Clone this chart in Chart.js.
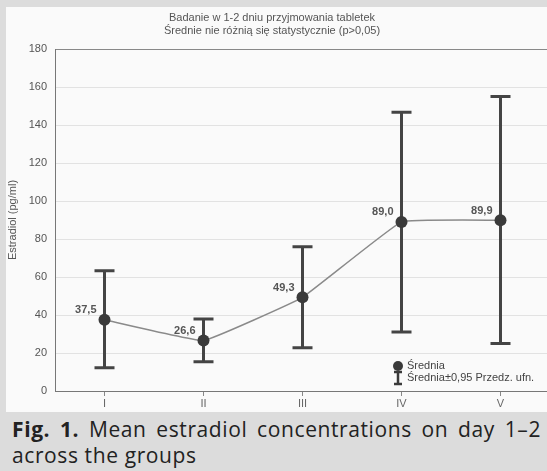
<!DOCTYPE html>
<html><head><meta charset="utf-8">
<script src="https://cdn.jsdelivr.net/npm/chart.js@4"></script>
<style>
html,body{margin:0;padding:0;background:#dcdcdc;width:547px;height:471px;overflow:hidden;}
#panel{position:absolute;left:6px;top:7px;width:541px;height:405px;background:#fafafa;overflow:hidden;}
#wrap{position:absolute;left:0;top:0;width:560px;height:405px;}
#cap{position:absolute;left:12px;top:416px;width:529px;font-family:'Open Sans',sans-serif;font-size:21px;line-height:26px;letter-spacing:0.6px;color:#222;}
#cap .l1{text-align:justify;text-align-last:justify;white-space:normal;}
</style></head><body>
<div id="panel"><div id="wrap"><canvas id="c" width="560" height="405"></canvas></div></div>
<div id="cap"><div class="l1"><b>Fig. 1.</b> Mean estradiol concentrations on day 1–2</div><div>across the groups</div></div>
<script>
const groups = ['I', 'II', 'III', 'IV', 'V'];
const means = [37.5, 26.6, 49.3, 89.0, 89.9];
const ciLower = [12.3, 15.4, 22.8, 31.0, 25.0];
const ciUpper = [63.3, 37.9, 75.9, 146.7, 155.0];
const titleLines = ['Badanie w 1-2 dniu przyjmowania tabletek', 'Średnie nie różnią się statystycznie (p>0,05)'];
const yTitle = 'Estradiol (pg/ml)';
const legendLabels = ['Średnia', 'Średnia±0,95 Przedz. ufn.'];

Chart.defaults.font.family = "'Liberation Sans', Arial, sans-serif";

const fmt = v => v.toFixed(1).replace('.', ',');

const custom = {
  id: 'custom',
  beforeDatasetsDraw(chart) {
    const ctx = chart.ctx, xs = chart.scales.x, ys = chart.scales.y;
    ctx.save();
    ctx.strokeStyle = '#444';
    ctx.lineWidth = 3;
    ctx.lineCap = 'butt';
    for (let i = 0; i < groups.length; i++) {
      const x = xs.getPixelForValue(i);
      const yt = ys.getPixelForValue(ciUpper[i]);
      const yb = ys.getPixelForValue(ciLower[i]);
      ctx.beginPath();
      ctx.moveTo(x, yt); ctx.lineTo(x, yb);
      ctx.moveTo(x - 10, yt); ctx.lineTo(x + 10, yt);
      ctx.moveTo(x - 10, yb); ctx.lineTo(x + 10, yb);
      ctx.stroke();
    }
    ctx.restore();
  },
  afterDatasetsDraw(chart) {
    const ctx = chart.ctx, xs = chart.scales.x, ys = chart.scales.y, ca = chart.chartArea;
    ctx.save();
    ctx.font = "bold 11px 'Liberation Sans', Arial, sans-serif";
    ctx.fillStyle = '#555';
    ctx.textAlign = 'right';
    ctx.textBaseline = 'bottom';
    for (let i = 0; i < groups.length; i++) {
      const x = xs.getPixelForValue(i), y = ys.getPixelForValue(means[i]);
      ctx.fillText(fmt(means[i]), x - 8, y - 4);
    }
    ctx.font = "11px 'Liberation Sans', Arial, sans-serif";
    ctx.textAlign = 'center';
    ctx.textBaseline = 'middle';
    ctx.fillStyle = '#555';
    ctx.fillText(titleLines[0], 266, 11);
    ctx.fillText(titleLines[1], 266, 24);
    const lx = ca.left + 343, ly1 = ca.bottom - 25, ly2 = ca.bottom - 13;
    ctx.fillStyle = '#3a3a3a';
    ctx.beginPath(); ctx.arc(lx, ly1, 5, 0, Math.PI * 2); ctx.fill();
    ctx.strokeStyle = '#3a3a3a'; ctx.lineWidth = 2.5;
    ctx.beginPath();
    ctx.moveTo(lx, ly2 - 6); ctx.lineTo(lx, ly2 + 6);
    ctx.moveTo(lx - 4, ly2 - 6); ctx.lineTo(lx + 4, ly2 - 6);
    ctx.moveTo(lx - 4, ly2 + 6); ctx.lineTo(lx + 4, ly2 + 6);
    ctx.stroke();
    ctx.fillStyle = '#444';
    ctx.textAlign = 'left';
    ctx.fillText(legendLabels[0], lx + 9, ly1);
    ctx.fillText(legendLabels[1], lx + 9, ly2);
    ctx.restore();
  }
};

new Chart(document.getElementById('c'), {
  type: 'line',
  data: {
    labels: groups,
    datasets: [{
      data: means,
      borderColor: '#8a8a8a',
      borderWidth: 1.5,
      tension: 0.08,
      pointRadius: 6,
      pointBackgroundColor: '#3a3a3a',
      pointBorderColor: '#3a3a3a',
      pointBorderWidth: 0
    }]
  },
  options: {
    responsive: false,
    animation: false,
    events: [],
    layout: { padding: { top: 42, left: 0, right: 16, bottom: 0 } },
    plugins: { legend: { display: false }, title: { display: false }, tooltip: { enabled: false } },
    scales: {
      y: {
        min: 0, max: 180,
        afterFit: s => { s.width = 49; },
        ticks: { stepSize: 20, color: '#555', font: { size: 11 }, padding: 8 },
        grid: { color: c => (c.tick && c.tick.value === 180) ? '#888' : '#e2e2e2', drawTicks: false },
        border: { color: '#777', width: 1 },
        title: { display: true, text: yTitle, color: '#555', font: { size: 11 }, padding: { top: 0, bottom: 0 } }
      },
      x: {
        offset: true,
        afterFit: s => { s.height = 21; },
        ticks: { color: '#666', font: { size: 11 }, padding: 1 },
        grid: { drawOnChartArea: false, offset: false, tickLength: 5, color: '#888' },
        border: { color: '#777', width: 1 }
      }
    }
  },
  plugins: [custom]
});
</script>
</body></html>
